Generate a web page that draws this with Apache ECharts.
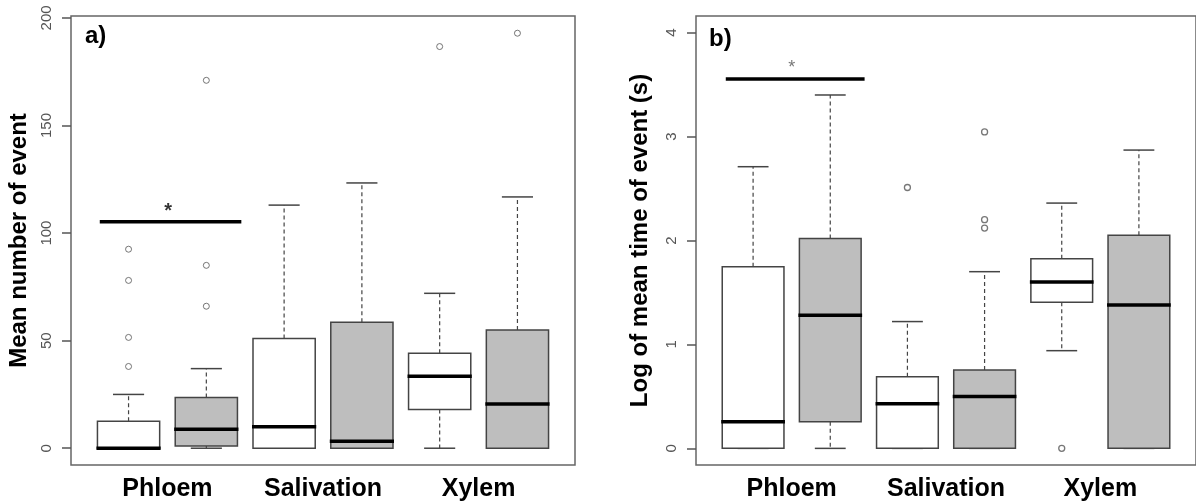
<!DOCTYPE html>
<html>
<head>
<meta charset="utf-8">
<script src="https://cdn.jsdelivr.net/npm/echarts@6/dist/echarts.min.js"></script>
<style>
  html, body { margin: 0; padding: 0; background: #fff; }
  #chart { width: 1196px; height: 502px; }
</style>
</head>
<body>
<div id="chart"></div>
<script>
// groups and box positions (two boxes per group)
var groupLabels = ["Phloem", "Salivation", "Xylem"];
var groupPos = [1.5, 3.5, 5.5];
var boxPos = [1, 2, 3, 4, 5, 6];
var boxFill = ["#ffffff", "#bebebe", "#ffffff", "#bebebe", "#ffffff", "#bebebe"];

// panel a) mean number of event
var aTicks = [0, 50, 100, 150, 200];
var aLow = [0, 0, 0, 0, 0, 0];
var aQ1 = [0, 1, 0, 0, 18, 0];
var aMed = [0, 8.8, 10, 3.2, 33.4, 20.6];
var aQ3 = [12.5, 23.6, 51, 58.6, 44.2, 55];
var aHigh = [25, 37, 113, 123.3, 72, 116.8];
var aOutliers = [[1, 92.5], [1, 78], [1, 51.5], [1, 38], [2, 171], [2, 85], [2, 66], [5, 186.7], [6, 192.9]];
var aSigLine = [[0.63, 105.3], [2.45, 105.3]];
var aSigStar = [[1.51, 110]];

// panel b) log of mean time of event
var bTicks = [0, 1, 2, 3, 4];
var bLow = [0, 0, 0, 0, 0.94, 0];
var bQ1 = [0, 0.257, 0, 0, 1.407, 0];
var bMed = [0.257, 1.28, 0.43, 0.5, 1.6, 1.38];
var bQ3 = [1.747, 2.02, 0.69, 0.753, 1.824, 2.05];
var bHigh = [2.71, 3.4, 1.22, 1.7, 2.36, 2.87];
var bOutliers = [[3, 2.51], [4, 3.045], [4, 2.2], [4, 2.12], [5, 0]];
var bSigLine = [[0.646, 3.555], [2.445, 3.555]];
var bSigStar = [[1.5, 3.66]];

function boxData(low, q1, med, q3, high) {
  return boxPos.map(function (x, i) {
    return [x, low[i], q1[i], med[i], q3[i], high[i]];
  });
}

var lineColor = "#444";

function renderBox(params, api) {
  var x = api.value(0);
  var pLow = api.coord([x, api.value(1)]);
  var pQ1 = api.coord([x, api.value(2)]);
  var pMed = api.coord([x, api.value(3)]);
  var pQ3 = api.coord([x, api.value(4)]);
  var pHigh = api.coord([x, api.value(5)]);
  var half = api.size([0.8, 0])[0] / 2;
  var cx = pMed[0];
  var dashed = { stroke: lineColor, lineWidth: 1.2, lineDash: [4, 3] };
  var solid = { stroke: lineColor, lineWidth: 1.5 };
  return {
    type: "group",
    children: [
      { type: "line", shape: { x1: cx, y1: pQ3[1], x2: cx, y2: pHigh[1] }, style: dashed },
      { type: "line", shape: { x1: cx, y1: pQ1[1], x2: cx, y2: pLow[1] }, style: dashed },
      { type: "line", shape: { x1: cx - half / 2, y1: pHigh[1], x2: cx + half / 2, y2: pHigh[1] }, style: solid },
      { type: "line", shape: { x1: cx - half / 2, y1: pLow[1], x2: cx + half / 2, y2: pLow[1] }, style: solid },
      {
        type: "rect",
        shape: { x: cx - half, y: pQ3[1], width: half * 2, height: pQ1[1] - pQ3[1] },
        style: { fill: boxFill[params.dataIndex], stroke: lineColor, lineWidth: 1.5 }
      },
      { type: "line", shape: { x1: cx - half - 1, y1: pMed[1], x2: cx + half + 1, y2: pMed[1] }, style: { stroke: "#000", lineWidth: 3.5 } }
    ]
  };
}

var font = "Liberation Sans, Arial, sans-serif";

function xAxisFor(gridIndex) {
  return {
    type: "value", gridIndex: gridIndex, min: 0.26, max: 6.74,
    axisLine: { show: false }, axisTick: { show: false }, splitLine: { show: false },
    axisLabel: {
      customValues: groupPos, margin: 12,
      fontFamily: font, fontSize: 25, fontWeight: "bold", color: "#000",
      formatter: function (v) { return groupLabels[groupPos.indexOf(v)]; }
    }
  };
}

function yAxisFor(gridIndex, min, max, ticks, name, gap) {
  return {
    type: "value", gridIndex: gridIndex, min: min, max: max,
    name: name, nameLocation: "middle", nameGap: gap, nameRotate: 90,
    nameTextStyle: { fontFamily: font, fontSize: 24, fontWeight: "bold", color: "#000" },
    axisLine: { show: false }, splitLine: { show: false },
    axisTick: { show: true, customValues: ticks, length: 9, lineStyle: { color: "#555", width: 1.5 } },
    axisLabel: { customValues: ticks, rotate: 90, margin: 17, fontFamily: font, fontSize: 15, color: "#555" }
  };
}

var chart = echarts.init(document.getElementById("chart"));
chart.setOption({
  animation: false,
  backgroundColor: "#fff",
  grid: [
    { left: 71, top: 16, width: 504, height: 450, show: true, borderColor: "#666", borderWidth: 1.5 },
    { left: 696, top: 16, width: 504, height: 449, show: true, borderColor: "#666", borderWidth: 1.5 }
  ],
  xAxis: [xAxisFor(0), xAxisFor(1)],
  yAxis: [
    yAxisFor(0, -7.8, 200.9, aTicks, "Mean number of event", 40),
    yAxisFor(1, -0.16, 4.16, bTicks, "Log of mean time of event (s)", 44)
  ],
  graphic: [
    { type: "text", left: 85, top: 24, style: { text: "a)", font: "bold 24px " + font, fill: "#000" } },
    { type: "text", left: 709, top: 27, style: { text: "b)", font: "bold 24px " + font, fill: "#000" } }
  ],
  series: [
    { type: "custom", xAxisIndex: 0, yAxisIndex: 0, renderItem: renderBox, data: boxData(aLow, aQ1, aMed, aQ3, aHigh) },
    { type: "custom", xAxisIndex: 1, yAxisIndex: 1, renderItem: renderBox, data: boxData(bLow, bQ1, bMed, bQ3, bHigh) },
    {
      type: "scatter", xAxisIndex: 0, yAxisIndex: 0, data: aOutliers, symbol: "circle", symbolSize: 6,
      itemStyle: { color: "#fff", borderColor: "#555", borderWidth: 1 }
    },
    {
      type: "scatter", xAxisIndex: 1, yAxisIndex: 1, data: bOutliers, symbol: "circle", symbolSize: 6,
      itemStyle: { color: "#fff", borderColor: "#555", borderWidth: 1.3 }
    },
    { type: "line", xAxisIndex: 0, yAxisIndex: 0, data: aSigLine, symbol: "none", lineStyle: { color: "#000", width: 3.5 } },
    { type: "line", xAxisIndex: 1, yAxisIndex: 1, data: bSigLine, symbol: "none", lineStyle: { color: "#000", width: 3.5 } },
    {
      type: "scatter", xAxisIndex: 0, yAxisIndex: 0, data: aSigStar, symbolSize: 0,
      label: { show: true, position: "inside", formatter: "*", fontFamily: font, fontSize: 20, fontWeight: "bold", color: "#000" }
    },
    {
      type: "scatter", xAxisIndex: 1, yAxisIndex: 1, data: bSigStar, symbolSize: 0,
      label: { show: true, position: "inside", formatter: "*", fontFamily: font, fontSize: 18, color: "#555" }
    }
  ]
});
</script>
</body>
</html>
